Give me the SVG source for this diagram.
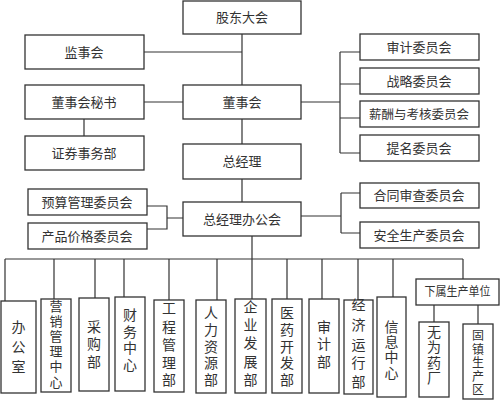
<svg xmlns="http://www.w3.org/2000/svg" width="500" height="401" viewBox="0 0 500 401">
<style>
.b{fill:#fff;stroke:#333;stroke-width:1.3}
.t{font-family:"Liberation Serif","Noto Sans CJK SC",serif;font-size:13px;fill:#333;text-anchor:middle}
.v{font-family:"Liberation Serif","Noto Sans CJK SC",serif;font-size:14px;fill:#333;text-anchor:middle}
.c{fill:none;stroke:#333;stroke-width:1.2}
</style>
<rect width="500" height="401" fill="#fff"/>
<g id="connectors" class="c">
<path d="M242 34V86M144 52H242M144 102H183M84 119V136M242 119V144M242 179V202"/>
<path d="M301 102H340M340 52V153M340 52H360M340 84H360M340 118H360M340 153H360"/>
<path d="M147 206H167V229H147M167 218H183"/>
<path d="M301 216H341M341 193V233M341 193H360M341 233H360"/>
<path d="M252 236V299M5 259H463"/>
<path d="M5 259V301M54 259V299M95 259V298M124 259V297M169 259V300M217 259V300M287 259V299M322 259V299M358 259V300M393 259V297M463 259V279"/>
<path d="M434 305V322M478 305V324"/>
</g>
<g id="n1"><rect class="b" x="183" y="1" width="118" height="33"/><text class="t" x="242" y="22">股东大会</text></g>
<g id="n2"><rect class="b" x="25" y="35" width="119" height="34"/><text class="t" x="84" y="57">监事会</text></g>
<g id="n3"><rect class="b" x="25" y="85" width="119" height="34"/><text class="t" x="84" y="107">董事会秘书</text></g>
<g id="n4"><rect class="b" x="183" y="85" width="118" height="34"/><text class="t" x="242" y="107">董事会</text></g>
<g id="n5"><rect class="b" x="25" y="136" width="119" height="34"/><text class="t" x="84" y="158">证券事务部</text></g>
<g id="n6"><rect class="b" x="183" y="144" width="118" height="35"/><text class="t" x="242" y="166">总经理</text></g>
<g id="n7"><rect class="b" x="360" y="34" width="119" height="26"/><text class="t" x="419" y="52">审计委员会</text></g>
<g id="n8"><rect class="b" x="360" y="68" width="119" height="26"/><text class="t" x="419" y="86">战略委员会</text></g>
<g id="n9"><rect class="b" x="360" y="101" width="119" height="26"/><text class="t" x="419" y="119" style="font-size:12.5px">薪酬与考核委员会</text></g>
<g id="n10"><rect class="b" x="360" y="135" width="119" height="26"/><text class="t" x="419" y="153">提名委员会</text></g>
<g id="n11"><rect class="b" x="183" y="202" width="118" height="34"/><text class="t" x="242" y="224">总经理办公会</text></g>
<g id="n12"><rect class="b" x="28" y="189" width="119" height="26"/><text class="t" x="87" y="207">预算管理委员会</text></g>
<g id="n13"><rect class="b" x="28" y="223" width="119" height="26"/><text class="t" x="87" y="241">产品价格委员会</text></g>
<g id="n14"><rect class="b" x="360" y="183" width="119" height="25"/><text class="t" x="419" y="200">合同审查委员会</text></g>
<g id="n15"><rect class="b" x="360" y="222" width="119" height="26"/><text class="t" x="419" y="240">安全生产委员会</text></g>
<g id="n16"><rect class="b" x="1" y="301" width="35" height="92"/><text class="v" x="18.5"><tspan x="18.5" y="332">办</tspan><tspan x="18.5" y="352">公</tspan><tspan x="18.5" y="372">室</tspan></text></g>
<g id="n17"><rect class="b" x="41" y="299" width="30" height="93"/><text class="v" x="56" style="font-size:13px"><tspan x="56" y="311">营</tspan><tspan x="56" y="326">销</tspan><tspan x="56" y="341">管</tspan><tspan x="56" y="356">理</tspan><tspan x="56" y="371">中</tspan><tspan x="56" y="387">心</tspan></text></g>
<g id="n18"><rect class="b" x="79" y="298" width="30" height="93"/><text class="v" x="94"><tspan x="94" y="332">采</tspan><tspan x="94" y="349">购</tspan><tspan x="94" y="367">部</tspan></text></g>
<g id="n19"><rect class="b" x="115" y="297" width="30" height="94"/><text class="v" x="130"><tspan x="130" y="320">财</tspan><tspan x="130" y="337">务</tspan><tspan x="130" y="353">中</tspan><tspan x="130" y="370">心</tspan></text></g>
<g id="n20"><rect class="b" x="154" y="300" width="30" height="92"/><text class="v" x="169"><tspan x="169" y="313">工</tspan><tspan x="169" y="332">程</tspan><tspan x="169" y="350">管</tspan><tspan x="169" y="368">理</tspan><tspan x="169" y="385">部</tspan></text></g>
<g id="n21"><rect class="b" x="196" y="300" width="30" height="93"/><text class="v" x="211"><tspan x="211" y="318">人</tspan><tspan x="211" y="335">力</tspan><tspan x="211" y="352">资</tspan><tspan x="211" y="368">源</tspan><tspan x="211" y="385">部</tspan></text></g>
<g id="n22"><rect class="b" x="235" y="299" width="31" height="94"/><text class="v" x="250.5"><tspan x="250.5" y="312">企</tspan><tspan x="250.5" y="330">业</tspan><tspan x="250.5" y="348">发</tspan><tspan x="250.5" y="367">展</tspan><tspan x="250.5" y="385">部</tspan></text></g>
<g id="n23"><rect class="b" x="272" y="299" width="30" height="94"/><text class="v" x="287"><tspan x="287" y="318">医</tspan><tspan x="287" y="335">药</tspan><tspan x="287" y="352">开</tspan><tspan x="287" y="368">发</tspan><tspan x="287" y="385">部</tspan></text></g>
<g id="n24"><rect class="b" x="309" y="299" width="30" height="94"/><text class="v" x="324"><tspan x="324" y="332">审</tspan><tspan x="324" y="349">计</tspan><tspan x="324" y="367">部</tspan></text></g>
<g id="n25"><rect class="b" x="344" y="300" width="29" height="94"/><text class="v" x="358.5"><tspan x="358.5" y="310">经</tspan><tspan x="358.5" y="330">济</tspan><tspan x="358.5" y="350">运</tspan><tspan x="358.5" y="368">行</tspan><tspan x="358.5" y="387">部</tspan></text></g>
<g id="n26"><rect class="b" x="377" y="297" width="29" height="100"/><text class="v" x="391.5"><tspan x="391.5" y="332">信</tspan><tspan x="391.5" y="347">息</tspan><tspan x="391.5" y="362">中</tspan><tspan x="391.5" y="378">心</tspan></text></g>
<g id="n27"><rect class="b" x="416" y="279" width="83" height="26"/><text class="t" x="457.5" y="296" style="font-size:12px" textLength="66" lengthAdjust="spacingAndGlyphs">下属生产单位</text></g>
<g id="n28"><rect class="b" x="419" y="322" width="30" height="75"/><text class="v" x="434"><tspan x="434" y="337">无</tspan><tspan x="434" y="352">为</tspan><tspan x="434" y="368">药</tspan><tspan x="434" y="383">厂</tspan></text></g>
<g id="n29"><rect class="b" x="463" y="324" width="30" height="75"/><text class="v" x="478" style="font-size:12px"><tspan x="478" y="340">固</tspan><tspan x="478" y="353.5">镇</tspan><tspan x="478" y="367">生</tspan><tspan x="478" y="380.5">产</tspan><tspan x="478" y="394">区</tspan></text></g>
</svg>
